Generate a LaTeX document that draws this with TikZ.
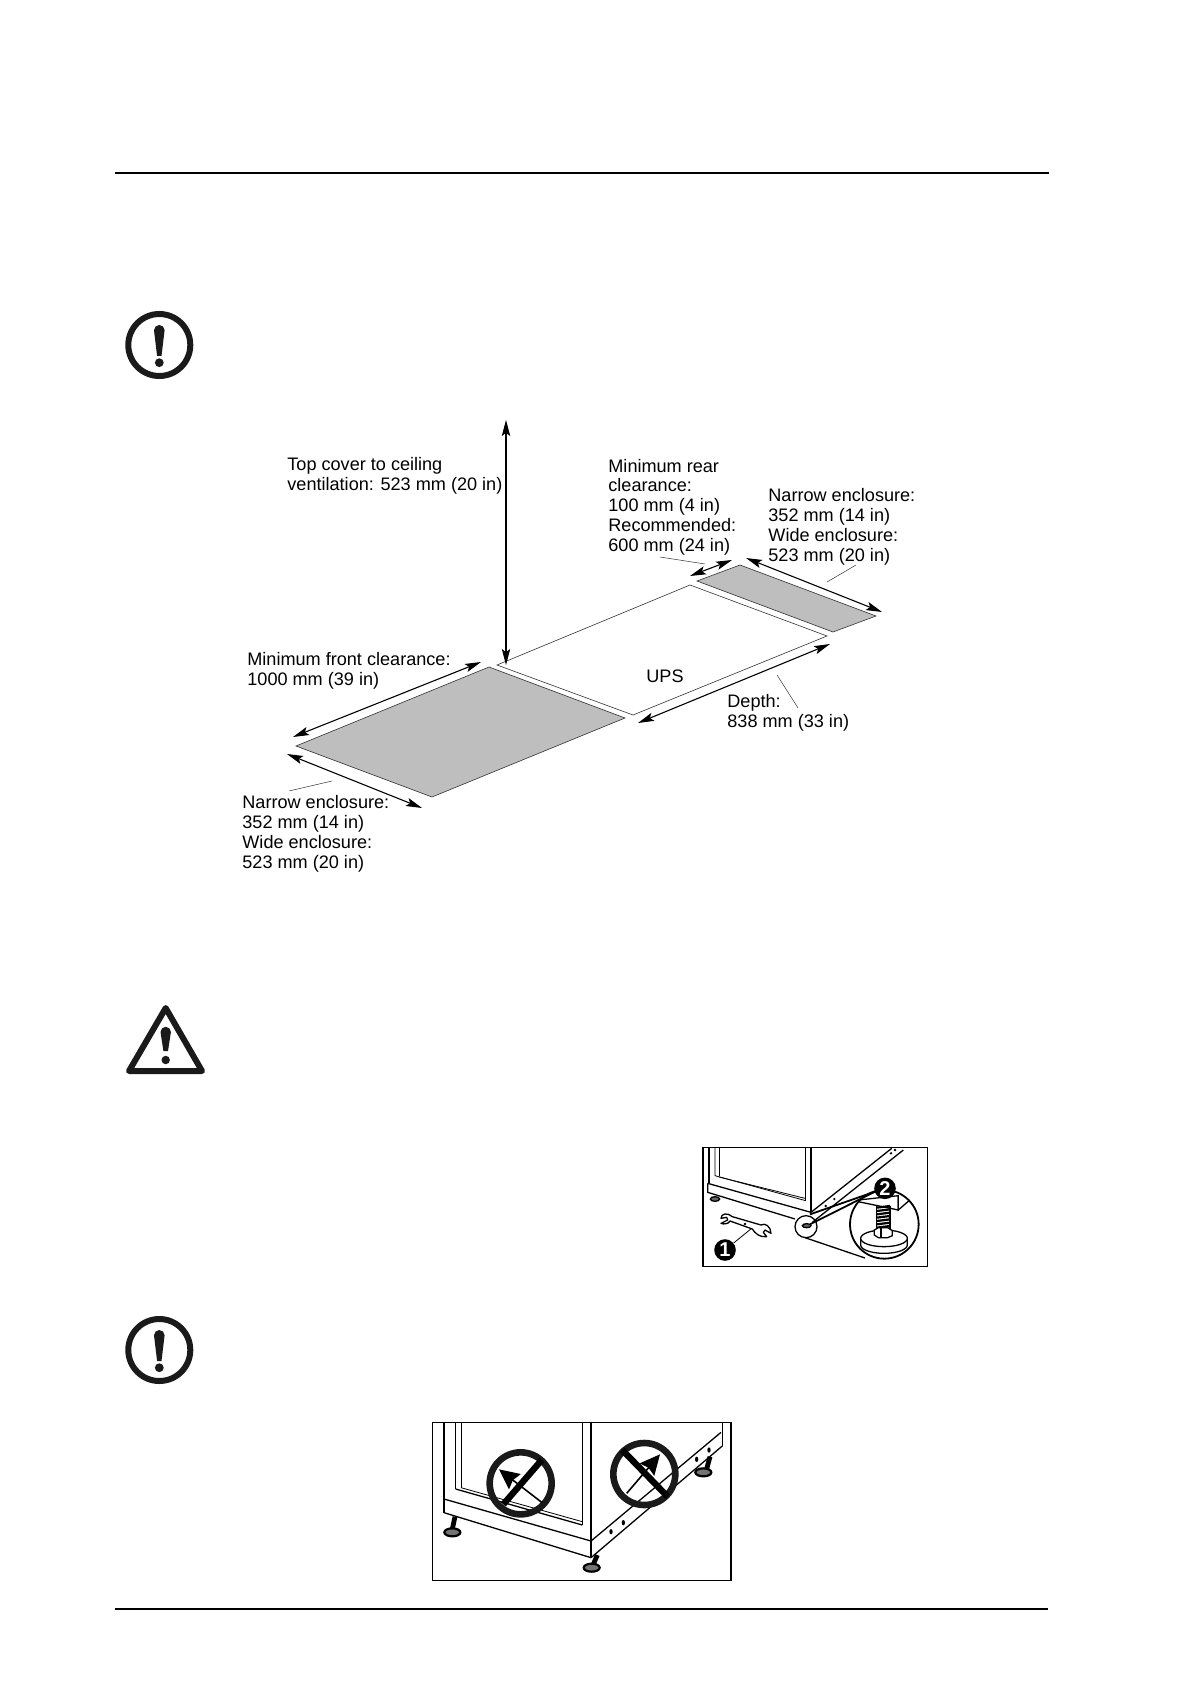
\documentclass[tikz,border=0pt]{standalone}
\usepackage{fontspec}
\setmainfont{Liberation Sans}
\usetikzlibrary{arrows.meta, calc}
\definecolor{floorgray}{RGB}{190,190,190}
\definecolor{inkblack}{RGB}{26,26,26}

\begin{document}
\begin{tikzpicture}[
        x=0.5pt, y=-0.5pt,
        label/.style={anchor=base west, align=left, inner sep=0pt, text=black, font=\fontsize{9.05}{9.85}\selectfont},
        rule/.style={line width=0.8pt, black},
        floorbox/.style={line width=0.3pt, draw=black!80},
        shaded/.style={floorbox, fill=floorgray},
        dim/.style={{Stealth[length=8pt,width=4.2pt,inset=1.6pt]}-{Stealth[length=8pt,width=4.2pt,inset=1.6pt]}, line width=0.55pt},
        leader/.style={line width=0.25pt, black!80},
        frame/.style={line width=0.8pt, black},
        part/.style={line width=0.65pt, black},
        thinpart/.style={line width=0.4pt, black},
        badge/.style={circle, fill=black, text=white, inner sep=0pt, minimum size=10.8pt, font=\fontsize{10}{10}\selectfont\bfseries},
        ring/.style={line width=3.3pt, inkblack},
        icon/.style={line width=3pt, inkblack},
        bigtip/.style={-{Stealth[length=10pt,width=9.5pt,inset=1.2pt]}, line width=0.8pt},
    ]
        \useasboundingbox (0,0) rectangle (1191,1684);

        % Page rules
        \coordinate (topL) at (115,173);
        \coordinate (topR) at (1049,173);
        \coordinate (botL) at (115,1609);
        \coordinate (botR) at (1048,1609);
        \draw[rule] (topL) -- (topR);
        \draw[rule] (botL) -- (botR);

        % Note icons
        \foreach \cy in {345,1350} {
            \draw[icon] (159.3,\cy) circle (31);
            \fill[inkblack] (154,\cy-14.7) arc[start angle=180, end angle=360, radius=5.3] -- (161.5,\cy+11) -- (157.1,\cy+11) -- cycle;
            \fill[inkblack] (159.3,\cy+17.7) circle (4.4);
        }

        % Caution icon
        \coordinate (triTop) at (165.7,1008);
        \coordinate (triL) at (129,1071);
        \coordinate (triR) at (202,1071);
        \draw[icon, line join=round] (triTop) -- (triR) -- (triL) -- cycle;
        \fill[inkblack] (160.5,1032) arc[start angle=180, end angle=360, radius=5.2] -- (168,1051) -- (163.4,1051) -- cycle;
        \fill[inkblack] (165.7,1060) circle (4.2);

        % Floor areas
        \coordinate (frontW) at (296,746);
        \coordinate (frontN) at (489,667);
        \coordinate (frontE) at (625,718);
        \coordinate (frontS) at (432,797);
        \coordinate (upsW) at (497,665);
        \coordinate (upsN) at (690,585);
        \coordinate (upsE) at (827,636);
        \coordinate (upsS) at (633,715);
        \coordinate (rearW) at (697,581);
        \coordinate (rearN) at (740,565);
        \coordinate (rearE) at (876,616);
        \coordinate (rearS) at (833,632);
        \draw[shaded] (frontW) -- (frontN) -- (frontE) -- (frontS) -- cycle;
        \draw[floorbox] (upsW) -- (upsN) -- (upsE) -- (upsS) -- cycle;
        \draw[shaded] (rearW) -- (rearN) -- (rearE) -- (rearS) -- cycle;

        % Dimension arrows
        \coordinate (ceilT) at (506,420);
        \coordinate (ceilB) at (506,665);
        \coordinate (frontA) at (293,737);
        \coordinate (frontB) at (481,662);
        \coordinate (lowA) at (287,754);
        \coordinate (lowB) at (422,808);
        \coordinate (rearA) at (690,576);
        \coordinate (rearB) at (732,560);
        \coordinate (wideA) at (746,558);
        \coordinate (wideB) at (882,612);
        \coordinate (depthA) at (638,723);
        \coordinate (depthB) at (830,644);
        \draw[dim] (ceilT) -- (ceilB);
        \draw[dim] (frontA) -- (frontB);
        \draw[dim] (lowA) -- (lowB);
        \draw[dim] (rearA) -- (rearB);
        \draw[dim] (wideA) -- (wideB);
        \draw[dim] (depthA) -- (depthB);

        % Leaders
        \coordinate (leadLowA) at (289,791);
        \coordinate (leadLowB) at (332,781);
        \coordinate (leadRearA) at (660,557);
        \coordinate (leadRearB) at (705,564);
        \coordinate (leadWideA) at (827,582);
        \coordinate (leadWideB) at (856,565);
        \coordinate (leadDepthA) at (777,675);
        \coordinate (leadDepthB) at (798,708);
        \draw[leader] (leadLowA) -- (leadLowB);
        \draw[leader] (leadRearA) -- (leadRearB);
        \draw[leader] (leadWideA) -- (leadWideB);
        \draw[leader] (leadDepthA) -- (leadDepthB);

        % Labels
        \node[label] (topcover) at (287,490) {Top cover to ceiling\\ventilation: 523 mm (20 in)};
        \node[label] (frontlbl) at (247,685) {Minimum front clearance:\\1000 mm (39 in)};
        \node[label] (lowlbl) at (242,868) {Narrow enclosure:\\352 mm (14 in)\\Wide enclosure:\\523 mm (20 in)};
        \node[label] (rearlbl) at (608,551) {Minimum rear\\clearance:\\100 mm (4 in)\\Recommended:\\600 mm (24 in)};
        \node[label] (widelbl) at (768,561) {Narrow enclosure:\\352 mm (14 in)\\Wide enclosure:\\523 mm (20 in)};
        \node[label] (upslbl) at (646,682) {UPS};
        \node[label] (depthlbl) at (727,727) {Depth:\\838 mm (33 in)};

        % Levelling feet figure
        \begin{scope}[shift={(695,1135)}, scale=1/3]
            \draw[frame] (24,37) rectangle (697,395);
            % cabinet
            \draw[part] (42,37) -- (42,145);
            \draw[thinpart] (60,37) -- (60,122) -- (332,197);
            \draw[thinpart] (72,37) -- (72,122);
            \draw[thinpart] (72,126) -- (330,190);
            \draw[part] (332,37) -- (332,197);
            \draw[part] (348,37) -- (348,232);
            \draw[part] (38,145) -- (348,232);
            \draw[part] (38,145) -- (38,172) -- (300,252);
            \draw[part] (348,232) -- (590,40);
            \draw[part] (352,262) -- (625,45);
            \fill (588,55) circle (4);
            \fill (600,45) circle (4);
            \fill (418,192) circle (4);
            \fill (392,213) circle (4);
            % feet
            \draw[part, fill=black!60] (60,192) ellipse [x radius=14, y radius=7];
            \draw[part, fill=black!60] (335,272) ellipse [x radius=13, y radius=6];
            % wrench
            \draw[part, line join=round] (78,250) .. controls (78,235) and (98,232) .. (112,245) -- (198,270)
                .. controls (210,262) and (228,275) .. (228,295) -- (210,285) -- (205,292) -- (215,305)
                .. controls (195,308) and (180,295) .. (172,282) -- (105,258) .. controls (100,268) and (85,268) .. (78,265) -- (98,255) -- (95,247) -- cycle;
            \fill (150,267) circle (4);
            % magnifier
            \draw[part] (333,275) circle (33);
            \draw[part] (330,308) -- (510,369);
            \draw[line width=0.9pt] (345,238) -- (540,170);
            \draw[line width=0.9pt] (345,268) -- (540,170);
            \begin{scope}
                \clip (568,268) circle (103);
                \draw[part, fill=white] (490,195) -- (610,182) -- (610,225) -- (490,200) -- cycle;
                \draw[part] (610,180) -- (610,225) -- (650,190);
                \foreach \hy in {218,228,...,278} {
                    \draw[line width=1.1pt] (545,\hy) -- (585,\hy-5);
                }
                \draw[part] (545,212) -- (545,285);
                \draw[part] (585,212) -- (585,285);
                \draw[part] (497,310) -- (497,330) arc[start angle=180, end angle=0, x radius=70, y radius=25] -- (637,310);
                \draw[part, fill=white] (567,310) ellipse [x radius=70, y radius=25];
                \draw[part, fill=white] (538,285) -- (550,278) -- (578,278) -- (592,287) -- (592,302) -- (578,308) -- (550,308) -- (538,300) -- cycle;
                \draw[part] (558,280) -- (558,308);
            \end{scope}
            \draw[line width=0.9pt] (568,268) circle (103);
            \coordinate (wrenchPt) at (170,280);
            \node[badge] (badgeOne) at (90,345) {1};
            \node[badge] (badgeTwo) at (570,160) {2};
            \draw[thinpart] (badgeOne) -- (wrenchPt);
        \end{scope}

        % Do not tilt figure
        \begin{scope}[shift={(425,1415)}, scale=1/3]
            \draw[frame] (22,23) rectangle (918,497);
            % cabinet
            \draw[part] (57,23) -- (57,293);
            \draw[thinpart] (92,23) -- (92,222);
            \draw[thinpart] (108,23) -- (108,218);
            \draw[part] (92,222) -- (472,330);
            \draw[thinpart] (108,218) -- (472,320);
            \draw[part] (472,23) -- (472,330);
            \draw[part] (498,23) -- (498,428);
            \draw[part] (57,252) -- (498,378);
            \draw[part] (57,293) -- (498,428);
            \draw[part] (498,378) -- (888,52);
            \draw[part] (498,428) -- (893,92);
            \draw[part] (893,23) -- (893,92);
            % holes
            \fill (558,350) ellipse [x radius=5, y radius=8];
            \fill (595,323) ellipse [x radius=5, y radius=8];
            \fill (815,133) ellipse [x radius=5, y radius=8];
            \fill (852,105) ellipse [x radius=5, y radius=8];
            % feet
            \draw[line width=2.4pt] (90,305) -- (82,342);
            \draw[line width=1.1pt, fill=black!55] (82,352) ellipse [x radius=24, y radius=12];
            \draw[line width=2.4pt] (517,420) -- (505,448);
            \draw[line width=1.1pt, fill=black!55] (500,458) ellipse [x radius=24, y radius=12];
            \draw[line width=2.4pt] (855,125) -- (845,162);
            \draw[line width=1.1pt, fill=black!55] (835,172) ellipse [x radius=24, y radius=12];
            % no-go signs
            \draw[ring] (287,205) circle (93);
            \draw[line width=3.2pt] (350,135) -- (235,268);
            \draw[bigtip] (350,262) -- (222,163);
            \draw[ring] (658,177) circle (93);
            \draw[line width=3.2pt] (592,105) -- (728,245);
            \draw[bigtip] (605,235) -- (705,118);
        \end{scope}
    \end{tikzpicture}
\end{document}
